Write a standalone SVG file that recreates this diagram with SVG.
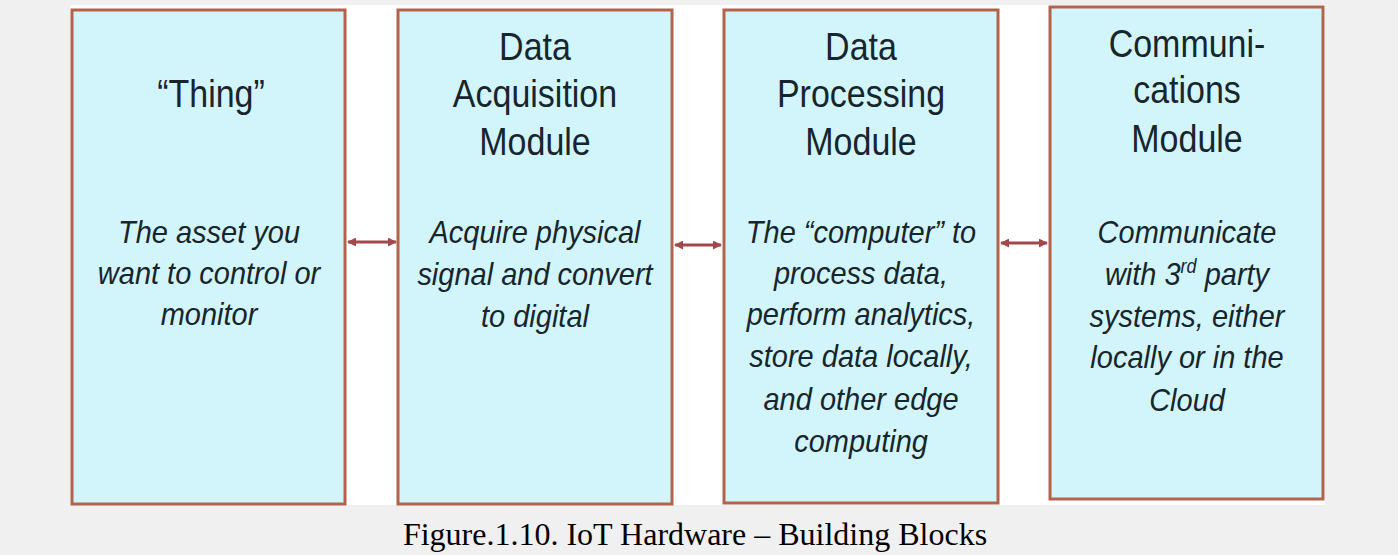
<svg xmlns="http://www.w3.org/2000/svg" width="1398" height="555" viewBox="0 0 1398 555">
<style>
.box{fill:#d2f5fc;stroke:#b3624c;stroke-width:3}
.ttl{font-family:"Liberation Sans",Arial,sans-serif;font-size:34px;fill:#17252c;text-anchor:middle}
.dsc{font-family:"Liberation Sans",Arial,sans-serif;font-size:29px;font-style:italic;fill:#17252c;text-anchor:middle}
.con{stroke:#a3484a;stroke-width:3;fill:none;marker-start:url(#ah);marker-end:url(#ah)}
.cap{font-family:"Liberation Serif","Times New Roman",serif;font-size:32px;fill:#000;text-anchor:middle}
</style>
<defs>
<marker id="ah" viewBox="0 0 10 10" refX="9" refY="5" markerWidth="3" markerHeight="3" orient="auto-start-reverse" markerUnits="strokeWidth">
<path d="M0,0 L10,5 L0,10 z" fill="#a3484a"/>
</marker>
</defs>
<rect x="0" y="0" width="1398" height="555" fill="#f0f0f0"/>
<rect x="70" y="5" width="1255" height="500" fill="#ffffff"/>

<g id="node-thing">
<rect class="box" x="72" y="10" width="273" height="494"/>
<text class="ttl" transform="translate(211,107) scale(1,1.15)">“Thing”</text>
<text class="dsc" transform="translate(209,243) scale(1,1.1)">The asset you</text>
<text class="dsc" transform="translate(209,284) scale(1,1.1)">want to control or</text>
<text class="dsc" transform="translate(209,325) scale(1,1.1)">monitor</text>
</g>

<g id="node-acquisition">
<rect class="box" x="398" y="10" width="274" height="494"/>
<text class="ttl" transform="translate(535,60) scale(1,1.15)">Data</text>
<text class="ttl" transform="translate(535,107) scale(1,1.15)">Acquisition</text>
<text class="ttl" transform="translate(535,155) scale(1,1.15)">Module</text>
<text class="dsc" transform="translate(535,243) scale(1,1.1)">Acquire physical</text>
<text class="dsc" transform="translate(535,285) scale(1,1.1)">signal and convert</text>
<text class="dsc" transform="translate(535,327) scale(1,1.1)">to digital</text>
</g>

<g id="node-processing">
<rect class="box" x="724" y="10" width="274" height="493"/>
<text class="ttl" transform="translate(861,60) scale(1,1.15)">Data</text>
<text class="ttl" transform="translate(861,107) scale(1,1.15)">Processing</text>
<text class="ttl" transform="translate(861,155) scale(1,1.15)">Module</text>
<text class="dsc" transform="translate(861,243) scale(1,1.1)">The “computer” to</text>
<text class="dsc" transform="translate(861,284) scale(1,1.1)">process data,</text>
<text class="dsc" transform="translate(861,325) scale(1,1.1)">perform analytics,</text>
<text class="dsc" transform="translate(861,367) scale(1,1.1)">store data locally,</text>
<text class="dsc" transform="translate(861,410) scale(1,1.1)">and other edge</text>
<text class="dsc" transform="translate(861,452) scale(1,1.1)">computing</text>
</g>

<g id="node-communications">
<rect class="box" x="1050" y="7" width="273" height="492"/>
<text class="ttl" transform="translate(1187,57) scale(1,1.15)">Communi-</text>
<text class="ttl" transform="translate(1187,103) scale(1,1.15)">cations</text>
<text class="ttl" transform="translate(1187,152) scale(1,1.15)">Module</text>
<text class="dsc" transform="translate(1187,243) scale(1,1.1)">Communicate</text>
<text class="dsc" transform="translate(1187,285) scale(1,1.1)">with 3<tspan font-size="18" dy="-11">rd</tspan><tspan dy="11"> party</tspan></text>
<text class="dsc" transform="translate(1187,327) scale(1,1.1)">systems, either</text>
<text class="dsc" transform="translate(1187,368) scale(1,1.1)">locally or in the</text>
<text class="dsc" transform="translate(1187,411) scale(1,1.1)">Cloud</text>
</g>

<g id="connectors">
<line class="con" x1="348" y1="242" x2="396" y2="242"/>
<line class="con" x1="675" y1="245" x2="721" y2="245"/>
<line class="con" x1="1001" y1="243" x2="1047" y2="243"/>
</g>

<text class="cap" x="695" y="545">Figure.1.10. IoT Hardware – Building Blocks</text>
</svg>
